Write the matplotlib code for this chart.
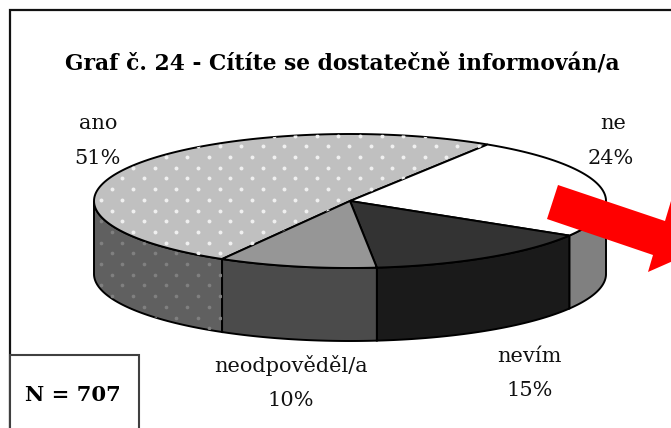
import numpy as np
import matplotlib
matplotlib.use("Agg")
import matplotlib.pyplot as plt
from matplotlib.patches import Polygon, Rectangle

title = "Graf č. 24 - Cítíte se dostatečně informován/a"
labels = ["ano", "ne", "nevím", "neodpověděl/a"]
values = [51, 24, 15, 10]  # printed percentages
shares = [50.7, 24.6, 14.7, 10.0]  # slice sizes as measured on the picture
top_colors = ["#c0c0c0", "#ffffff", "#333333", "#969696"]
side_colors = ["#606060", "#808080", "#1a1a1a", "#4b4b4b"]
n_text = "N = 707"

# pie geometry in image pixels
cx, cy = 350, 201
rx, ry = 256, 67
depth = 73
start = 57.5  # ano / ne border, degrees

plt.rcParams["font.family"] = ["DejaVu Serif"]
fig = plt.figure(figsize=(6.71, 4.28), dpi=100)
ax = fig.add_axes([0, 0, 1, 1])
ax.set_xlim(0, 671)
ax.set_ylim(428, 0)
ax.axis("off")


def arc(t0, t1, dy=0):
    t = np.radians(np.linspace(t0, t1, 120))
    return np.column_stack([cx + rx * np.cos(t), cy - ry * np.sin(t) + dy])


def dots(patch, color, size):
    # white dot texture, staggered rows
    xs, ys = [], []
    for i, y in enumerate(np.arange(125, 345, 10.7)):
        row = np.arange(90 + (i % 2) * 10.8, 500, 21.6)
        xs.extend(row)
        ys.extend([y] * len(row))
    sc = ax.scatter(xs, ys, s=size, color=color, linewidths=0, zorder=patch.get_zorder() + 0.1)
    sc.set_clip_path(patch)


# ano runs counter-clockwise from start, the others clockwise from start
spans = []
a = start
ano_end = start + shares[0] * 3.6
spans.append((start, ano_end))
for v in shares[1:]:
    spans.append((a - v * 3.6, a))
    a -= v * 3.6

# side walls
for (t0, t1), col, lab in zip(spans, side_colors, labels):
    t0n, t1n = t0 % 360, t1 % 360
    if t1n <= t0n:
        t1n += 360
    lo, hi = max(t0n, 180), min(t1n, 360)
    if lo >= hi:
        lo, hi = max(t0n - 360, -180), min(t1n - 360, 0)
    if lo >= hi:
        continue
    pts = np.vstack([arc(lo, hi), arc(hi, lo, depth)])
    wall = Polygon(pts, closed=True, facecolor=col, edgecolor="black", lw=1.4, zorder=2)
    ax.add_patch(wall)
    if lab == "ano":
        dots(wall, "#808080", 7)

# top slices
for (t0, t1), col, lab in zip(spans, top_colors, labels):
    pts = np.vstack([[cx, cy], arc(t0, t1)])
    wedge = Polygon(pts, closed=True, facecolor=col, edgecolor="black", lw=1.4, zorder=3)
    ax.add_patch(wedge)
    if lab == "ano":
        dots(wedge, "#f0f0f0", 8)

# red arrow over the pie
arrow = Polygon([(558, 185), (547, 219), (653, 255), (648, 272), (698, 250), (671, 201), (665, 221)],
                closed=True, facecolor="#ff0000", edgecolor="none", zorder=5)
ax.add_patch(arrow)

# frame
ax.plot([9.5, 9.5, 671], [428, 9.5, 9.5], color="#111111", lw=1.6, zorder=1, solid_joinstyle="miter")
ax.add_patch(Rectangle((10, 355), 129, 80, facecolor="white", edgecolor="#404040", lw=1.5, zorder=6))

ax.text(342, 64, title, fontsize=15.7, fontweight="bold", ha="center", va="center", color="black")
ax.text(73, 395, n_text, fontsize=15.2, fontweight="bold", ha="center", va="center", color="black", zorder=7)

label_pos = [(98, 123, 97, 158), (613, 123, 611, 158), (529, 356, 530, 390), (291, 365, 291, 400)]
for lab, v, (x1, y1, x2, y2) in zip(labels, values, label_pos):
    ax.text(x1, y1, lab, fontsize=15, ha="center", va="center", color="#111111", zorder=7)
    ax.text(x2, y2, f"{v}%", fontsize=15, ha="center", va="center", color="#111111", zorder=7)

fig.savefig("out.png", dpi=100)
